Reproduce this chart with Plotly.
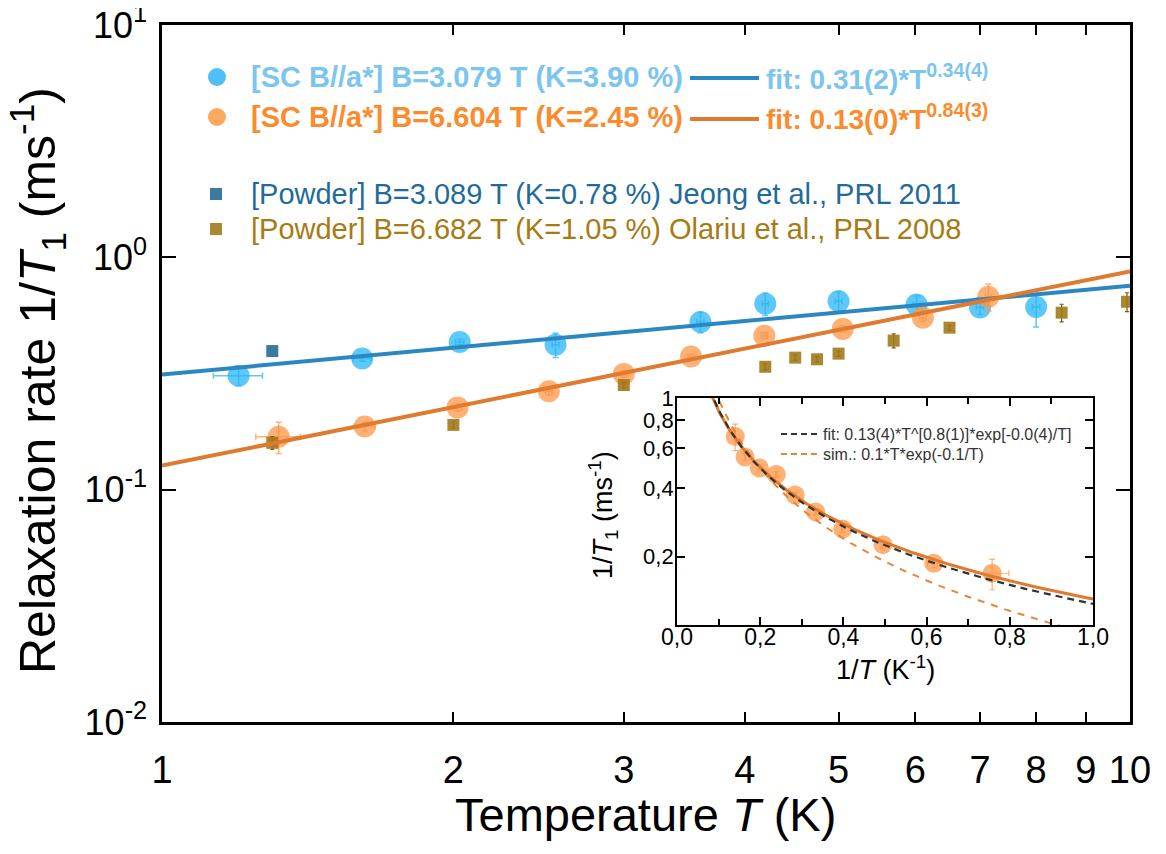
import numpy as np
import plotly.graph_objects as go

# ---------------- data ----------------
# single crystal, B = 3.079 T
sc1_T = [1.20, 1.61, 2.03, 2.55, 3.60, 4.20, 5.00, 6.02, 7.00, 8.00]
sc1_rate = [0.309, 0.367, 0.432, 0.421, 0.527, 0.632, 0.647, 0.626, 0.608, 0.611]
sc1_rate_err = [0.028, 0.01, 0.012, 0.05, 0.053, 0.07, 0.065, 0.057, 0.04, 0.11]
sc1_T_err = [0.07, 0.035, 0.02, 0.02, 0.03, 0.03, 0.04, 0.05, 0.06, 0.07]

# single crystal, B = 6.604 T
sc2_T = [1.32, 1.62, 2.02, 2.51, 3.00, 3.52, 4.19, 5.05, 6.11, 7.14]
sc2_rate = [0.169, 0.187, 0.226, 0.265, 0.315, 0.374, 0.460, 0.492, 0.550, 0.677]
sc2_rate_err = [0.026, 0.008, 0.008, 0.01, 0.01, 0.01, 0.014, 0.015, 0.02, 0.09]
sc2_T_err = [0.07, 0.04, 0.02, 0.02, 0.02, 0.03, 0.03, 0.04, 0.05, 0.05]

# powder, B = 3.089 T (Jeong et al.)
pw1_T = [1.30]
pw1_rate = [0.395]

# powder, B = 6.682 T (Olariu et al.)
pw2_T = [1.30, 2.00, 3.00, 4.20, 4.51, 4.75, 5.00, 5.70, 6.51, 8.50, 9.93]
pw2_rate = [0.159, 0.190, 0.282, 0.338, 0.370, 0.364, 0.385, 0.438, 0.498, 0.578, 0.644]
pw2_rate_err = [0.01, 0.006, 0.008, 0.01, 0.01, 0.01, 0.01, 0.03, 0.012, 0.05, 0.06]

# power-law fit lines (end points at T = 1 K and 10 K)
fit_T = [1.0, 10.0]
fit1_rate = [0.313, 0.755]
fit2_rate = [0.127, 0.87]

# inset curves parameters
inset_orange_amp, inset_orange_exp = 0.130, 0.83  # solid orange power law
inset_fit_amp, inset_fit_exp = 0.124, 0.855        # black dashed fit
sim_amp, sim_gap = 0.1, 0.1                        # sim.: 0.1*T*exp(-0.1/T)

# tick labels
x_ticks = [1, 2, 3, 4, 5, 6, 7, 8, 9, 10]
y_ticks = [0.01, 0.1, 1, 10]
y_ticktext = ["10<sup>-2</sup>", "10<sup>-1</sup>", "10<sup>0</sup>", "10<sup>1</sup>"]
ix_ticks = [0.0, 0.2, 0.4, 0.6, 0.8, 1.0]
ix_ticktext = ["0,0", "0,2", "0,4", "0,6", "0,8", "1,0"]
iy_ticks = [0.2, 0.4, 0.6, 0.8, 1.0]
iy_ticktext = ["0,2", "0,4", "0,6", "0,8", "1"]

# ---------------- styling ----------------
FONT = "Liberation Sans, Arial, sans-serif"
BLUE_M = "rgba(40,182,246,0.75)"
BLUE_T = "#7cc5ee"
BLUE_L = "#2b87c1"
ORANGE_M = "rgba(255,150,70,0.75)"
ORANGE_T = "#fb8b2d"
ORANGE_L = "#e07a2e"
TEAL = "#3b7a9e"
TEAL_T = "#1f6b99"
GOLD = "rgba(160,118,22,0.88)"
GOLD_T = "#a77a13"

OFF = 8  # page offset of the figure in the screenshot
W, H = 1166, 854
L, R, T_, B = 162 - OFF, 1166 - 1130 + OFF, 25 - OFF, 854 - 722 + OFF
PW, PH = W - L - R, H - T_ - B


def px(xp):
    return (xp - OFF - L) / PW


def py(yp):
    return (H - B - (yp - OFF)) / PH


fig = go.Figure()

# main data
fig.add_trace(go.Scatter(
    x=sc1_T, y=sc1_rate, mode="markers",
    marker=dict(size=22, color=BLUE_M, line=dict(width=0)),
    error_y=dict(type="data", array=sc1_rate_err, color=BLUE_M, thickness=1.5, width=3),
    error_x=dict(type="data", array=sc1_T_err, color=BLUE_M, thickness=1.5, width=3),
    showlegend=False))
fig.add_trace(go.Scatter(
    x=sc2_T, y=sc2_rate, mode="markers",
    marker=dict(size=22, color=ORANGE_M, line=dict(width=0)),
    error_y=dict(type="data", array=sc2_rate_err, color=ORANGE_M, thickness=1.5, width=3),
    error_x=dict(type="data", array=sc2_T_err, color=ORANGE_M, thickness=1.5, width=3),
    showlegend=False))
fig.add_trace(go.Scatter(
    x=pw1_T, y=pw1_rate, mode="markers",
    marker=dict(size=12, symbol="square", color=TEAL, line=dict(width=0)),
    showlegend=False))
fig.add_trace(go.Scatter(
    x=pw2_T, y=pw2_rate, mode="markers",
    marker=dict(size=12, symbol="square", color=GOLD, line=dict(width=0)),
    error_y=dict(type="data", array=pw2_rate_err, color="#7a5a0c", thickness=1.2, width=2),
    showlegend=False))
fig.add_trace(go.Scatter(x=fit_T, y=fit1_rate, mode="lines",
                         line=dict(color=BLUE_L, width=4), showlegend=False))
fig.add_trace(go.Scatter(x=fit_T, y=fit2_rate, mode="lines",
                         line=dict(color=ORANGE_L, width=4), showlegend=False))

# inset
inv_T = [1.0 / t for t in sc2_T]
inv_T_err = [e / t ** 2 for e, t in zip(sc2_T_err, sc2_T)]
xx = np.linspace(0.06, 1.0, 300)
fit_curve = inset_orange_amp * (1.0 / xx) ** inset_orange_exp
black_curve = inset_fit_amp * (1.0 / xx) ** inset_fit_exp
sim_curve = sim_amp * (1.0 / xx) * np.exp(-sim_gap * xx)

fig.add_trace(go.Scatter(
    x=inv_T, y=sc2_rate, mode="markers", xaxis="x2", yaxis="y2",
    marker=dict(size=19, color=ORANGE_M, line=dict(width=0)),
    error_y=dict(type="data", array=sc2_rate_err, color=ORANGE_M, thickness=1.2, width=3),
    error_x=dict(type="data", array=inv_T_err, color=ORANGE_M, thickness=1.2, width=3),
    showlegend=False))
fig.add_trace(go.Scatter(x=xx, y=sim_curve, mode="lines", xaxis="x2", yaxis="y2",
                         line=dict(color="#e8853a", width=2, dash="7px,7px"), showlegend=False))
fig.add_trace(go.Scatter(x=xx, y=fit_curve, mode="lines", xaxis="x2", yaxis="y2",
                         line=dict(color=ORANGE_L, width=3), showlegend=False))
fig.add_trace(go.Scatter(x=xx, y=black_curve, mode="lines", xaxis="x2", yaxis="y2",
                         line=dict(color="#333333", width=2.2, dash="7px,5px"), showlegend=False))

axis_common = dict(showline=True, linecolor="black", mirror="allticks", ticks="inside",
                   showgrid=False, zeroline=False, automargin=False, ticklabeloverflow="allow")

fig.update_layout(
    width=W, height=H,
    margin=dict(l=L, r=R, t=T_, b=B, autoexpand=False),
    paper_bgcolor="white", plot_bgcolor="white",
    xaxis=dict(type="log", range=[0, 1.00002], tickvals=x_ticks, ticktext=[str(v) for v in x_ticks],
               linewidth=2.5, ticklen=10, tickwidth=2, tickcolor="black",
               tickfont=dict(family=FONT, size=38, color="black"), ticklabelstandoff=13,
               **axis_common),
    yaxis=dict(type="log", range=[-2.00002, 1.00002], tickvals=y_ticks, ticktext=y_ticktext,
               linewidth=2.5, ticklen=14, tickwidth=2, tickcolor="black",
               tickfont=dict(family=FONT, size=36, color="black"), ticklabelstandoff=5,
               **axis_common),
    xaxis2=dict(domain=[px(677), px(1093)], anchor="y2", range=[0, 1],
                tickvals=ix_ticks, ticktext=ix_ticktext,
                minor=dict(tickvals=[0.1, 0.3, 0.5, 0.7, 0.9], ticks="inside", ticklen=6,
                           tickcolor="black", tickwidth=1.5),
                linewidth=1.8, ticklen=8, tickwidth=1.5, tickcolor="black",
                tickfont=dict(family=FONT, size=23, color="black"), ticklabelstandoff=-10,
                **axis_common),
    yaxis2=dict(domain=[py(625), py(398)], anchor="x2", type="log", range=[-1, 0.0001],
                tickvals=iy_ticks, ticktext=iy_ticktext,
                linewidth=1.8, ticklen=8, tickwidth=1.5, tickcolor="black",
                tickfont=dict(family=FONT, size=22, color="black"), ticklabelstandoff=-3,
                **axis_common),
    showlegend=False,
)

ann = []
# axis titles
ann.append(dict(x=px(645), y=py(815), xref="paper", yref="paper", showarrow=False,
                text="Temperature <i>T</i> (K)", font=dict(family=FONT, size=47, color="black"),
                xanchor="center", yanchor="middle"))
ann.append(dict(x=px(37), y=py(381), xref="paper", yref="paper", showarrow=False, textangle=-90,
                text="Relaxation rate 1/<i>T</i><sub>1</sub> (ms<sup>-1</sup>)",
                font=dict(family=FONT, size=50, color="black"),
                xanchor="center", yanchor="middle"))
ann.append(dict(x=px(885), y=py(668), xref="paper", yref="paper", showarrow=False,
                text="1/<i>T</i> (K<sup>-1</sup>)", font=dict(family=FONT, size=27, color="black"),
                xanchor="center", yanchor="middle"))
ann.append(dict(x=px(603), y=py(515), xref="paper", yref="paper", showarrow=False, textangle=-90,
                text="1/<i>T</i><sub>1</sub> (ms<sup>-1</sup>)", font=dict(family=FONT, size=27, color="black"),
                xanchor="center", yanchor="middle"))

# legend texts
rows = [
    (77, "<b>[SC B//a*] B=3.079 T (K=3.90 %)</b>", BLUE_T, "<b>fit: 0.31(2)*T<sup>0.34(4)</sup></b>"),
    (117, "<b>[SC B//a*] B=6.604 T (K=2.45 %)</b>", ORANGE_T, "<b>fit: 0.13(0)*T<sup>0.84(3)</sup></b>"),
]
for yp, txt, col, fit_txt in rows:
    ann.append(dict(x=px(249), y=py(yp), xref="paper", yref="paper", showarrow=False, text=txt,
                    font=dict(family=FONT, size=29, color=col), xanchor="left", yanchor="middle"))
    ann.append(dict(x=px(764), y=py(yp), xref="paper", yref="paper", showarrow=False, text=fit_txt,
                    font=dict(family=FONT, size=28, color=col), xanchor="left", yanchor="middle"))
for yp, txt, col in [(194, "[Powder] B=3.089 T (K=0.78 %) Jeong et al., PRL 2011", TEAL_T),
                     (229, "[Powder] B=6.682 T (K=1.05 %) Olariu et al., PRL 2008", GOLD_T)]:
    ann.append(dict(x=px(249), y=py(yp), xref="paper", yref="paper", showarrow=False, text=txt,
                    font=dict(family=FONT, size=29, color=col), xanchor="left", yanchor="middle"))
# inset legend texts
ann.append(dict(x=px(821), y=py(434), xref="paper", yref="paper", showarrow=False,
                text="fit: 0.13(4)*T^[0.8(1)]*exp[-0.0(4)/T]", font=dict(family=FONT, size=16, color="#333333"),
                xanchor="left", yanchor="middle"))
ann.append(dict(x=px(821), y=py(454), xref="paper", yref="paper", showarrow=False,
                text="sim.: 0.1*T*exp(-0.1/T)", font=dict(family=FONT, size=16, color="#333333"),
                xanchor="left", yanchor="middle"))

shapes = []
# legend markers
for yp, col in [(77, "#4fc0f7"), (117, "#ffa860")]:
    shapes.append(dict(type="circle", xref="paper", yref="paper", xsizemode="pixel", ysizemode="pixel",
                       xanchor=px(217), yanchor=py(yp), x0=-9, x1=9, y0=-9, y1=9,
                       fillcolor=col, line=dict(width=0)))
for yp, col in [(194, TEAL), (229, GOLD)]:
    shapes.append(dict(type="rect", xref="paper", yref="paper", xsizemode="pixel", ysizemode="pixel",
                       xanchor=px(216), yanchor=py(yp), x0=-6, x1=6, y0=-6, y1=6,
                       fillcolor=col, line=dict(width=0)))
# legend lines
for yp, col in [(78, BLUE_L), (119, ORANGE_L)]:
    shapes.append(dict(type="line", xref="paper", yref="paper", x0=px(690), x1=px(759),
                       y0=py(yp), y1=py(yp), line=dict(color=col, width=4)))
shapes.append(dict(type="line", xref="paper", yref="paper", x0=px(781), x1=px(818),
                   y0=py(434), y1=py(434), line=dict(color="#333333", width=2, dash="6px,4px")))
shapes.append(dict(type="line", xref="paper", yref="paper", x0=px(781), x1=px(818),
                   y0=py(454), y1=py(454), line=dict(color="#e8853a", width=2, dash="6px,4px")))

fig.update_layout(annotations=ann, shapes=shapes)

fig.write_html("out.html")
